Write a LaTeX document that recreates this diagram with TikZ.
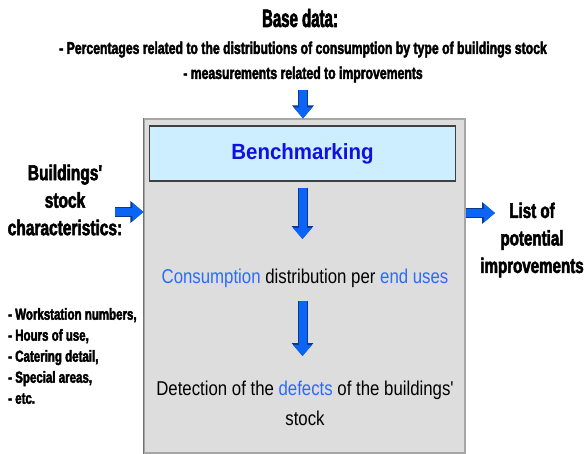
\documentclass[tikz,border=0pt]{standalone}
\usepackage{fontspec}
\setmainfont{Liberation Sans}
\newfontfamily\narrowfont[FakeStretch=0.6,FakeBold=2.5]{Liberation Sans Bold}
\newfontfamily\condfont[FakeStretch=0.72,FakeBold=2.5]{Liberation Sans Bold}
\newfontfamily\boxfont[FakeStretch=0.84]{Liberation Sans}
\newfontfamily\benchfont[FakeStretch=0.93]{Liberation Sans}
\usetikzlibrary{arrows.meta,positioning}
\definecolor{framegray}{HTML}{DDDDDD}
\definecolor{benchfill}{HTML}{CCEEFF}
\definecolor{benchblue}{HTML}{1010E0}
\definecolor{wordblue}{HTML}{2A6CF6}
\definecolor{arrowblue}{HTML}{0A64F5}
\definecolor{arrowdark}{HTML}{0A3A8C}

\tikzset{
  outtext/.style={align=center, inner sep=0pt},
  intext/.style={font=\boxfont\fontsize{20}{30}\selectfont, align=center, inner sep=0pt},
  frame/.style={fill=framegray, draw=gray!70, line width=1.2pt, minimum width=321pt, minimum height=334pt},
  benchbox/.style={fill=benchfill, draw=black!75, line width=1.2pt, minimum width=306pt, minimum height=55pt,
    text=benchblue, font=\benchfont\bfseries\fontsize{22}{26}\selectfont},
  bigarrow/.style={arrowblue, line width=8pt, -{Triangle[width=18pt,length=11pt]},
    preaction={draw=arrowdark, line width=10pt, -{Triangle[width=21pt,length=13pt]}}},
}

\begin{document}
\begin{tikzpicture}[x=1pt,y=-1pt]
\useasboundingbox (0,0) rectangle (584,453);
% box in the middle
\node[frame] (frame) at (304.5,286) {};
\draw[gray!90!black, line width=1.5pt] (frame.north west) -- (frame.south west);
\node[benchbox] (bench) at (302.5,153.5) {Benchmarking};
\node[intext] (cons) at (305,278) {\textcolor{wordblue}{Consumption} distribution per \textcolor{wordblue}{end uses}};
\node[intext] (detect) at (305,403) {Detection of the \textcolor{wordblue}{defects} of the buildings'\\stock};
% inputs and outputs
\node[outtext, font=\narrowfont\fontsize{25}{30}\selectfont] (base) at (300,18) {Base data:};
\node[outtext, font=\condfont\fontsize{17}{25}\selectfont] (basedet) at (303,62)
  {- Percentages related to the distributions of consumption by type of buildings stock\\
   - measurements related to improvements};
\node[outtext, font=\condfont\fontsize{21.5}{27.5}\selectfont] (input) at (65,200)
  {Buildings'\\stock\\characteristics:};
\node[outtext, align=left, anchor=west, font=\condfont\fontsize{16}{21}\selectfont] (inlist) at (8,356)
  {- Workstation numbers,\\ - Hours of use,\\ - Catering detail,\\ - Special areas,\\ - etc.};
\node[outtext, font=\condfont\fontsize{21}{27.5}\selectfont] (output) at (532,240)
  {List of\\potential\\improvements};
% arrows
\coordinate (inarr) at (115,212);
\coordinate (outarr) at (495,213);
\draw[bigarrow] ([yshift=-7pt]basedet.south) -- (basedet.south |- frame.north);
\draw[bigarrow] ([yshift=-6pt]bench.south) -- ([yshift=-6pt]bench.south |- 0,233);
\draw[bigarrow] (bench.south |- 0,301) -- (bench.south |- 0,356);
\draw[bigarrow] (inarr) -- (inarr -| frame.west);
\draw[bigarrow] (outarr -| frame.east) -- (outarr);
\end{tikzpicture}
\end{document}
